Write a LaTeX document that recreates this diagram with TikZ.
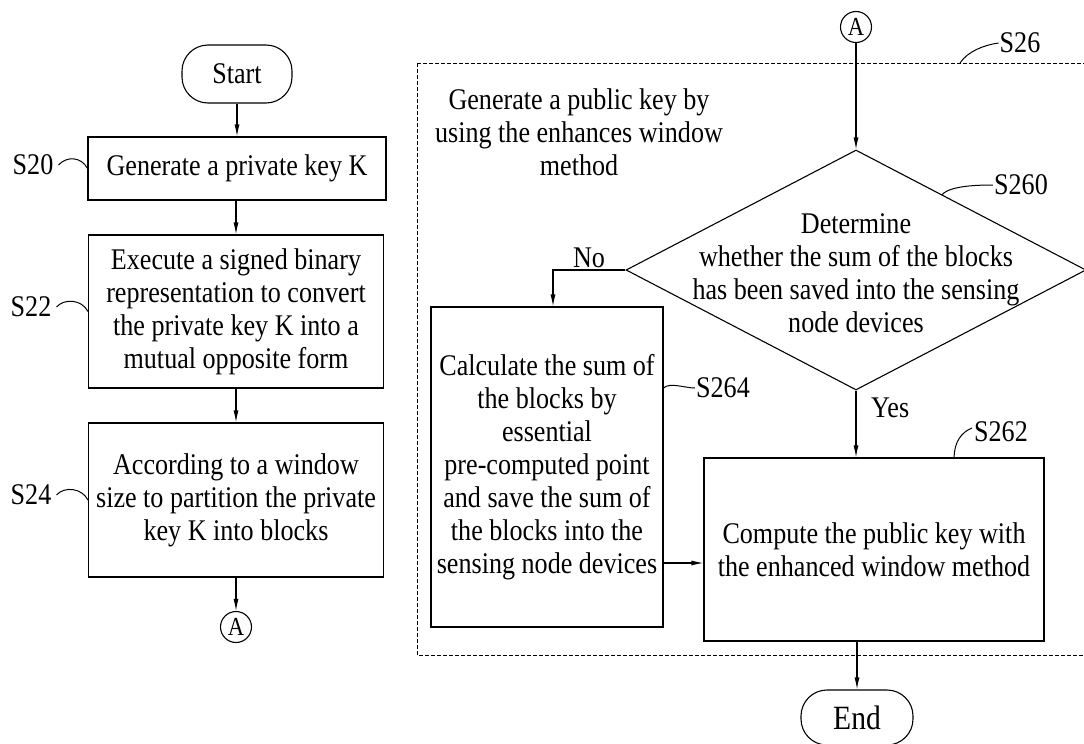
\documentclass[tikz,border=0pt]{standalone}
\usepackage{fontspec}
\setmainfont{Liberation Serif}[FakeStretch=0.87]
\usetikzlibrary{arrows.meta,shapes.geometric,calc}
\begin{document}
\begin{tikzpicture}[x=1pt,y=-1pt,
  txt/.style={font=\fontsize{30}{33}\selectfont},
  box/.style={draw, line width=1.1pt, align=center, inner sep=0pt, txt},
  term/.style={draw, line width=1.1pt, rounded corners=26pt, inner sep=0pt, txt},
  conn/.style={draw, circle, line width=1.1pt, inner sep=0pt, minimum size=31pt, font=\fontsize{26}{26}\selectfont},
  arr/.style={-{Latex[length=12pt,width=5pt]}, line width=1.1pt},
  lab/.style={txt, inner sep=0pt},
  lead/.style={line width=1pt},
  frame/.style={draw, line width=1pt, dash pattern=on 4pt off 2pt}
]
\useasboundingbox (0,0) rectangle (1084,744);

% ---------- left column ----------
\node[term, minimum width=110pt, minimum height=58pt] (start) at (237,74) {Start};
\node[box, minimum width=298pt, minimum height=63pt] (s20) at (237,168.5) {Generate a private key K};
\node[box, minimum width=295pt, minimum height=153pt] (s22) at (236,311.5)
  {Execute a signed binary\\representation to convert\\the private key K into a\\mutual opposite form};
\node[box, minimum width=295pt, minimum height=154pt] (s24) at (236,500)
  {According to a window\\size to partition the private\\key K into blocks};
\node[conn] (a1) at (236,627) {A};

\draw[arr] (start.south) -- (start.south |- s20.north);
\draw[arr] (s20.south -| s22.north) -- (s22.north);
\draw[arr] (s22.south) -- (s24.north);
\draw[arr] (s24.south) -- (a1.north);

\node[lab] (s20lab) at (33,165) {S20};
\node[lab] (s22lab) at (31,307) {S22};
\node[lab] (s24lab) at (31,495) {S24};
\draw[lead] ([xshift=5pt]s20lab.east) .. controls +(8,-9) and +(-6,-12) .. (s20.west);
\draw[lead] ([xshift=5pt]s22lab.east) .. controls +(8,-9) and +(-6,-12) .. (s22.west);
\draw[lead] ([xshift=5pt]s24lab.east) .. controls +(8,-9) and +(-6,-12) .. (s24.west);

% ---------- right part ----------
\draw[frame] (417,63) rectangle (1120,655);
\coordinate (s26pt) at (960,63);
\node[lab, align=center] (title) at (579,132)
  {Generate a public key by\\using the enhances window\\method};

\node[conn] (a2) at (856,27) {A};
\node[draw, diamond, line width=1.1pt, inner sep=0pt, minimum width=460pt, minimum height=240pt] (dia) at (856,270) {};
\node[lab, align=center] (diatext) at (856,273)
  {Determine\\whether the sum of the blocks\\has been saved into the sensing\\node devices};

\node[box, minimum width=232pt, minimum height=320pt] (s264) at (547,467)
  {Calculate the sum of\\the blocks by\\essential\\pre-computed point\\and save the sum of\\the blocks into the\\sensing node devices};
\node[box, minimum width=340pt, minimum height=183pt] (s262) at (874,549.5)
  {Compute the public key with\\the enhanced window method};
\node[term, minimum width=112pt, minimum height=55pt, font=\fontsize{34}{34}\selectfont] (end) at (857,717.5) {End};

\draw[arr] (a2.south) -- (dia.north);
\draw[arr] (dia.west) -| ([xshift=6pt]s264.north);
\node[lab] (no) at (589,258) {No};
\draw[arr] (dia.south) -- (dia.south |- s262.north);
\node[lab, anchor=west] (yes) at (871,408) {Yes};
\coordinate (hy) at (0,563);
\draw[arr] (s264.east |- hy) -- (s262.west |- hy);
\draw[arr] (end.north |- s262.south) -- (end.north);

\node[lab] (s26lab) at (1020,43) {S26};
\node[lab] (s260lab) at (1021,185) {S260};
\node[lab] (s264lab) at (723,388) {S264};
\node[lab] (s262lab) at (1001,432) {S262};
\draw[lead] (s26pt) .. controls +(8,-12) and +(-14,2) .. ([xshift=-1pt]s26lab.west);
\draw[lead] ($(dia.north)!0.374!(dia.east)$) .. controls +(8,-9) and +(-14,0) .. ([xshift=-1pt]s260lab.west);
\draw[lead] (s264.east |- s264lab.west) .. controls +(6,-6) and +(-10,0) .. ([xshift=-1pt]s264lab.west);
\draw[lead] ($(s262.north west)!0.735!(s262.north east)$) .. controls +(0,-16) and +(-10,4) .. ([xshift=-2pt,yshift=4pt]s262lab.west);
\end{tikzpicture}
\end{document}
